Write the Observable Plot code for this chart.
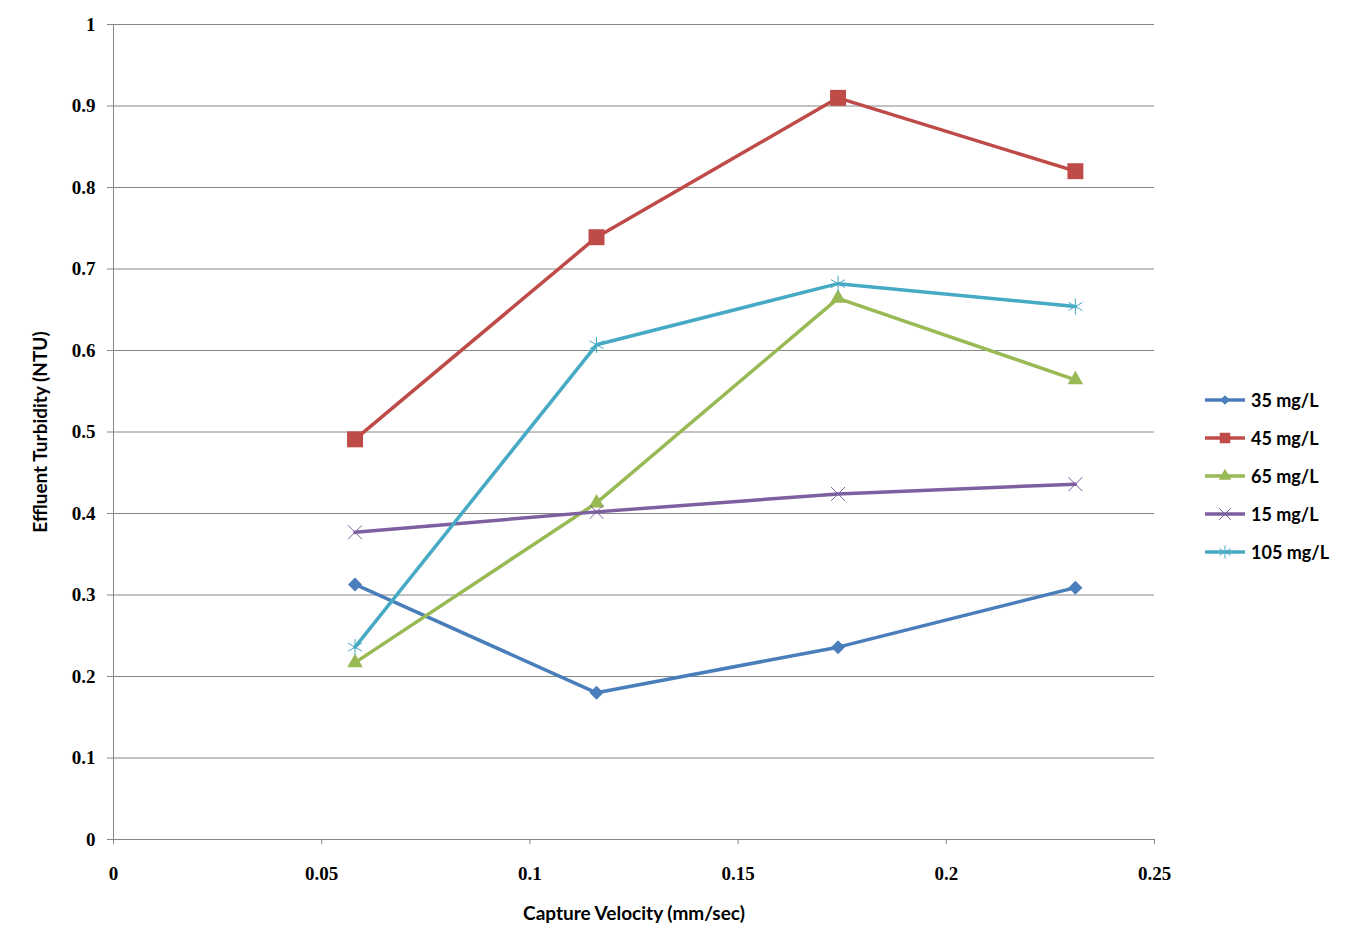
<!DOCTYPE html>
<html>
<head>
<meta charset="utf-8">
<script src="https://cdn.jsdelivr.net/npm/d3@7"></script>
<script src="https://cdn.jsdelivr.net/npm/@observablehq/plot@0.6"></script>
<style>
  html, body { margin: 0; padding: 0; background: #fff; }
  #wrap { position: relative; width: 1352px; height: 952px; }
  #chart svg { font-family: "Liberation Serif", serif; }
  g[aria-label="x-axis tick label"] text, g[aria-label="y-axis tick label"] text {
    font-family: "Liberation Serif", serif; font-weight: bold; font-size: 19px; fill: #000;
  }
  g[aria-label="x-axis label"] text, g[aria-label="y-axis label"] text {
    font-family: Lato, "Open Sans", sans-serif; font-weight: bold; font-size: 19px; fill: #000;
  }
  #legend { position: absolute; left: 1203px; top: 381px; font-family: Lato, "Open Sans", sans-serif; font-weight: bold; font-size: 18px; color: #000; }
  #legend .row { display: flex; align-items: center; height: 38px; }
  #legend svg { margin-right: 4px; }
</style>
</head>
<body>
<div id="wrap">
  <div id="chart"></div>
  <div id="legend"></div>
</div>
<script>
const velocities = [0.058, 0.116, 0.174, 0.231];
const seriesNames = ["35 mg/L", "45 mg/L", "65 mg/L", "15 mg/L", "105 mg/L"];
const turb35 = [0.313, 0.180, 0.236, 0.309];
const turb45 = [0.491, 0.739, 0.910, 0.820];
const turb65 = [0.217, 0.413, 0.664, 0.564];
const turb15 = [0.377, 0.402, 0.424, 0.436];
const turb105 = [0.236, 0.607, 0.682, 0.654];
const xTicks = [0, 0.05, 0.1, 0.15, 0.2, 0.25];
const yTicks = [0, 0.1, 0.2, 0.3, 0.4, 0.5, 0.6, 0.7, 0.8, 0.9, 1];

const seriesValues = [turb35, turb45, turb65, turb15, turb105];
const colors = ["#4a7ebb", "#be4b48", "#98b954", "#7d60a0", "#46aac5"];
const symbols = ["diamond2", "square", "triangle", "times", "asterisk"];
const filled = [true, true, true, false, false];
const radii = [6.3, 9.0, 5.8, 6.4, 7.6];
const legendSymbols = [d3.symbolDiamond2, d3.symbolSquare, d3.symbolTriangle, d3.symbolTimes, d3.symbolAsterisk];
const legendSizes = [60, 110, 70, 90, 120];

const rows = [];
seriesNames.forEach((name, i) => {
  seriesValues[i].forEach((v, j) => rows.push({series: name, idx: i, x: velocities[j], y: v}));
});

const marks = [
  Plot.gridY(yTicks, {stroke: "#868686", strokeOpacity: 1, strokeWidth: 1}),
  Plot.ruleX([0], {stroke: "#868686", strokeWidth: 1}),
  Plot.axisX({ticks: xTicks, tickFormat: d => String(d), tickSize: 5, tickPadding: 22, stroke: "#868686",
    label: "Capture Velocity (mm/sec)", labelArrow: "none", labelAnchor: "center", labelOffset: 80}),
  Plot.axisY({ticks: yTicks, tickFormat: d => String(d), tickSize: 6, tickPadding: 12, stroke: "#868686",
    label: "Effluent Turbidity (NTU)", labelArrow: "none", labelAnchor: "center", labelOffset: 80})
];
seriesNames.forEach((name, i) => {
  marks.push(Plot.line(rows.filter(d => d.idx === i), {x: "x", y: "y", stroke: colors[i], strokeWidth: 3.5}));
});
seriesNames.forEach((name, i) => {
  const data = rows.filter(d => d.idx === i);
  marks.push(Plot.dot(data, filled[i]
    ? {x: "x", y: "y", symbol: () => symbols[i], r: radii[i], fill: colors[i], stroke: "none"}
    : {x: "x", y: "y", symbol: () => symbols[i], r: radii[i], fill: "none", stroke: colors[i], strokeWidth: 1}));
});

const chart = Plot.plot({
  width: 1352,
  height: 952,
  marginLeft: 113,
  marginRight: 198,
  marginTop: 24,
  marginBottom: 113,
  x: {domain: [0, 0.25]},
  y: {domain: [0, 1]},
  symbol: {type: "identity"},
  style: {background: "#fff", color: "#000", overflow: "visible"},
  marks
});
document.getElementById("chart").appendChild(chart);

const legend = d3.select("#legend");
seriesNames.forEach((name, i) => {
  const row = legend.append("div").attr("class", "row");
  const svg = row.append("svg").attr("width", 44).attr("height", 20);
  svg.append("line").attr("x1", 2).attr("x2", 42).attr("y1", 10).attr("y2", 10)
    .attr("stroke", colors[i]).attr("stroke-width", 3.5);
  svg.append("path").attr("transform", "translate(22,10)")
    .attr("d", d3.symbol(legendSymbols[i], legendSizes[i])())
    .attr("fill", filled[i] ? colors[i] : "none")
    .attr("stroke", filled[i] ? "none" : colors[i]).attr("stroke-width", 1);
  row.append("span").text(name);
});
</script>
</body>
</html>
